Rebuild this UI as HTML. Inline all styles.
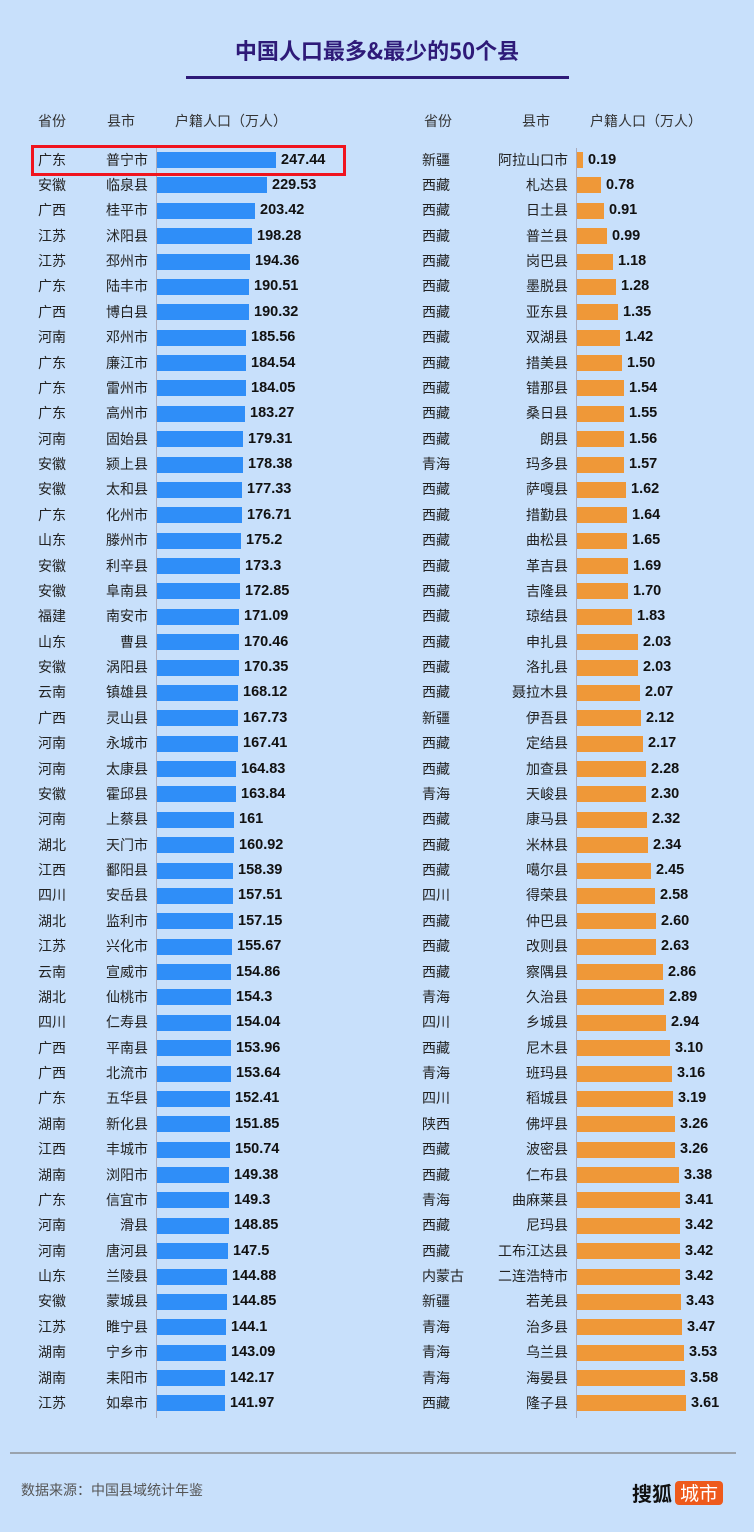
<!DOCTYPE html>
<html><head><meta charset="utf-8"><style>
body{margin:0;width:754px;height:1532px;background:#c8e0fb;position:relative;overflow:hidden;font-family:"Liberation Sans","Noto Sans CJK SC",sans-serif;color:#222}
.t{position:absolute;left:0;width:754px;top:34px;text-align:center;font-size:22px;font-weight:bold;color:#2e1a78;font-family:"Noto Sans CJK SC",sans-serif}
.ul{position:absolute;left:186px;width:383px;top:76px;height:3px;background:#2e1a78}
.h{position:absolute;top:111px;font-size:14px;color:#333;font-family:"Noto Sans CJK SC",sans-serif}
.col{position:absolute;top:147.5px;width:377px}
.col div{height:25.39px;position:relative;font-size:14px;font-family:"Noto Sans CJK SC",sans-serif}
.col span{position:absolute;top:2px;line-height:20px}
.L .p{left:38px}.L .c{right:229px}
.R .p{left:45px}.R .c{right:186px}
.col i{position:absolute;top:4.5px;height:16px}
.L i{left:157px;background:#2f8ef8}
.R i{left:200px;background:#ef9838}
.col b{position:absolute;top:2px;line-height:20px;font-family:"Liberation Sans",sans-serif;font-size:14.5px;color:#111}
.ax{position:absolute;width:1px;background:#aab;top:148px;height:1270px}
</style></head><body>
<div class="t">中国人口最多&amp;最少的50个县</div>
<div class="ul"></div>
<div class="h" style="left:38px">省份</div><div class="h" style="left:107px">县市</div><div class="h" style="left:175px">户籍人口（万人）</div>
<div class="h" style="left:424px">省份</div><div class="h" style="left:522px">县市</div><div class="h" style="left:590px">户籍人口（万人）</div>
<div class="ax" style="left:156px"></div><div class="ax" style="left:576px"></div>
<div style="position:absolute;left:31px;top:145px;width:309px;height:25px;border:3px solid #f0141e"></div>
<div class="col L" style="left:0">
<div><span class="p">广东</span><span class="c">普宁市</span><i style="width:119px"></i><b style="left:281px">247.44</b></div>
<div><span class="p">安徽</span><span class="c">临泉县</span><i style="width:110px"></i><b style="left:272px">229.53</b></div>
<div><span class="p">广西</span><span class="c">桂平市</span><i style="width:98px"></i><b style="left:260px">203.42</b></div>
<div><span class="p">江苏</span><span class="c">沭阳县</span><i style="width:95px"></i><b style="left:257px">198.28</b></div>
<div><span class="p">江苏</span><span class="c">邳州市</span><i style="width:93px"></i><b style="left:255px">194.36</b></div>
<div><span class="p">广东</span><span class="c">陆丰市</span><i style="width:92px"></i><b style="left:254px">190.51</b></div>
<div><span class="p">广西</span><span class="c">博白县</span><i style="width:92px"></i><b style="left:254px">190.32</b></div>
<div><span class="p">河南</span><span class="c">邓州市</span><i style="width:89px"></i><b style="left:251px">185.56</b></div>
<div><span class="p">广东</span><span class="c">廉江市</span><i style="width:89px"></i><b style="left:251px">184.54</b></div>
<div><span class="p">广东</span><span class="c">雷州市</span><i style="width:89px"></i><b style="left:251px">184.05</b></div>
<div><span class="p">广东</span><span class="c">高州市</span><i style="width:88px"></i><b style="left:250px">183.27</b></div>
<div><span class="p">河南</span><span class="c">固始县</span><i style="width:86px"></i><b style="left:248px">179.31</b></div>
<div><span class="p">安徽</span><span class="c">颍上县</span><i style="width:86px"></i><b style="left:248px">178.38</b></div>
<div><span class="p">安徽</span><span class="c">太和县</span><i style="width:85px"></i><b style="left:247px">177.33</b></div>
<div><span class="p">广东</span><span class="c">化州市</span><i style="width:85px"></i><b style="left:247px">176.71</b></div>
<div><span class="p">山东</span><span class="c">滕州市</span><i style="width:84px"></i><b style="left:246px">175.2</b></div>
<div><span class="p">安徽</span><span class="c">利辛县</span><i style="width:83px"></i><b style="left:245px">173.3</b></div>
<div><span class="p">安徽</span><span class="c">阜南县</span><i style="width:83px"></i><b style="left:245px">172.85</b></div>
<div><span class="p">福建</span><span class="c">南安市</span><i style="width:82px"></i><b style="left:244px">171.09</b></div>
<div><span class="p">山东</span><span class="c">曹县</span><i style="width:82px"></i><b style="left:244px">170.46</b></div>
<div><span class="p">安徽</span><span class="c">涡阳县</span><i style="width:82px"></i><b style="left:244px">170.35</b></div>
<div><span class="p">云南</span><span class="c">镇雄县</span><i style="width:81px"></i><b style="left:243px">168.12</b></div>
<div><span class="p">广西</span><span class="c">灵山县</span><i style="width:81px"></i><b style="left:243px">167.73</b></div>
<div><span class="p">河南</span><span class="c">永城市</span><i style="width:81px"></i><b style="left:243px">167.41</b></div>
<div><span class="p">河南</span><span class="c">太康县</span><i style="width:79px"></i><b style="left:241px">164.83</b></div>
<div><span class="p">安徽</span><span class="c">霍邱县</span><i style="width:79px"></i><b style="left:241px">163.84</b></div>
<div><span class="p">河南</span><span class="c">上蔡县</span><i style="width:77px"></i><b style="left:239px">161</b></div>
<div><span class="p">湖北</span><span class="c">天门市</span><i style="width:77px"></i><b style="left:239px">160.92</b></div>
<div><span class="p">江西</span><span class="c">鄱阳县</span><i style="width:76px"></i><b style="left:238px">158.39</b></div>
<div><span class="p">四川</span><span class="c">安岳县</span><i style="width:76px"></i><b style="left:238px">157.51</b></div>
<div><span class="p">湖北</span><span class="c">监利市</span><i style="width:76px"></i><b style="left:238px">157.15</b></div>
<div><span class="p">江苏</span><span class="c">兴化市</span><i style="width:75px"></i><b style="left:237px">155.67</b></div>
<div><span class="p">云南</span><span class="c">宣威市</span><i style="width:74px"></i><b style="left:236px">154.86</b></div>
<div><span class="p">湖北</span><span class="c">仙桃市</span><i style="width:74px"></i><b style="left:236px">154.3</b></div>
<div><span class="p">四川</span><span class="c">仁寿县</span><i style="width:74px"></i><b style="left:236px">154.04</b></div>
<div><span class="p">广西</span><span class="c">平南县</span><i style="width:74px"></i><b style="left:236px">153.96</b></div>
<div><span class="p">广西</span><span class="c">北流市</span><i style="width:74px"></i><b style="left:236px">153.64</b></div>
<div><span class="p">广东</span><span class="c">五华县</span><i style="width:73px"></i><b style="left:235px">152.41</b></div>
<div><span class="p">湖南</span><span class="c">新化县</span><i style="width:73px"></i><b style="left:235px">151.85</b></div>
<div><span class="p">江西</span><span class="c">丰城市</span><i style="width:73px"></i><b style="left:235px">150.74</b></div>
<div><span class="p">湖南</span><span class="c">浏阳市</span><i style="width:72px"></i><b style="left:234px">149.38</b></div>
<div><span class="p">广东</span><span class="c">信宜市</span><i style="width:72px"></i><b style="left:234px">149.3</b></div>
<div><span class="p">河南</span><span class="c">滑县</span><i style="width:72px"></i><b style="left:234px">148.85</b></div>
<div><span class="p">河南</span><span class="c">唐河县</span><i style="width:71px"></i><b style="left:233px">147.5</b></div>
<div><span class="p">山东</span><span class="c">兰陵县</span><i style="width:70px"></i><b style="left:232px">144.88</b></div>
<div><span class="p">安徽</span><span class="c">蒙城县</span><i style="width:70px"></i><b style="left:232px">144.85</b></div>
<div><span class="p">江苏</span><span class="c">睢宁县</span><i style="width:69px"></i><b style="left:231px">144.1</b></div>
<div><span class="p">湖南</span><span class="c">宁乡市</span><i style="width:69px"></i><b style="left:231px">143.09</b></div>
<div><span class="p">湖南</span><span class="c">耒阳市</span><i style="width:68px"></i><b style="left:230px">142.17</b></div>
<div><span class="p">江苏</span><span class="c">如皋市</span><i style="width:68px"></i><b style="left:230px">141.97</b></div>
</div>
<div class="col R" style="left:377px">
<div><span class="p">新疆</span><span class="c">阿拉山口市</span><i style="width:6px"></i><b style="left:211px">0.19</b></div>
<div><span class="p">西藏</span><span class="c">札达县</span><i style="width:24px"></i><b style="left:229px">0.78</b></div>
<div><span class="p">西藏</span><span class="c">日土县</span><i style="width:27px"></i><b style="left:232px">0.91</b></div>
<div><span class="p">西藏</span><span class="c">普兰县</span><i style="width:30px"></i><b style="left:235px">0.99</b></div>
<div><span class="p">西藏</span><span class="c">岗巴县</span><i style="width:36px"></i><b style="left:241px">1.18</b></div>
<div><span class="p">西藏</span><span class="c">墨脱县</span><i style="width:39px"></i><b style="left:244px">1.28</b></div>
<div><span class="p">西藏</span><span class="c">亚东县</span><i style="width:41px"></i><b style="left:246px">1.35</b></div>
<div><span class="p">西藏</span><span class="c">双湖县</span><i style="width:43px"></i><b style="left:248px">1.42</b></div>
<div><span class="p">西藏</span><span class="c">措美县</span><i style="width:45px"></i><b style="left:250px">1.50</b></div>
<div><span class="p">西藏</span><span class="c">错那县</span><i style="width:47px"></i><b style="left:252px">1.54</b></div>
<div><span class="p">西藏</span><span class="c">桑日县</span><i style="width:47px"></i><b style="left:252px">1.55</b></div>
<div><span class="p">西藏</span><span class="c">朗县</span><i style="width:47px"></i><b style="left:252px">1.56</b></div>
<div><span class="p">青海</span><span class="c">玛多县</span><i style="width:47px"></i><b style="left:252px">1.57</b></div>
<div><span class="p">西藏</span><span class="c">萨嘎县</span><i style="width:49px"></i><b style="left:254px">1.62</b></div>
<div><span class="p">西藏</span><span class="c">措勤县</span><i style="width:50px"></i><b style="left:255px">1.64</b></div>
<div><span class="p">西藏</span><span class="c">曲松县</span><i style="width:50px"></i><b style="left:255px">1.65</b></div>
<div><span class="p">西藏</span><span class="c">革吉县</span><i style="width:51px"></i><b style="left:256px">1.69</b></div>
<div><span class="p">西藏</span><span class="c">吉隆县</span><i style="width:51px"></i><b style="left:256px">1.70</b></div>
<div><span class="p">西藏</span><span class="c">琼结县</span><i style="width:55px"></i><b style="left:260px">1.83</b></div>
<div><span class="p">西藏</span><span class="c">申扎县</span><i style="width:61px"></i><b style="left:266px">2.03</b></div>
<div><span class="p">西藏</span><span class="c">洛扎县</span><i style="width:61px"></i><b style="left:266px">2.03</b></div>
<div><span class="p">西藏</span><span class="c">聂拉木县</span><i style="width:63px"></i><b style="left:268px">2.07</b></div>
<div><span class="p">新疆</span><span class="c">伊吾县</span><i style="width:64px"></i><b style="left:269px">2.12</b></div>
<div><span class="p">西藏</span><span class="c">定结县</span><i style="width:66px"></i><b style="left:271px">2.17</b></div>
<div><span class="p">西藏</span><span class="c">加查县</span><i style="width:69px"></i><b style="left:274px">2.28</b></div>
<div><span class="p">青海</span><span class="c">天峻县</span><i style="width:69px"></i><b style="left:274px">2.30</b></div>
<div><span class="p">西藏</span><span class="c">康马县</span><i style="width:70px"></i><b style="left:275px">2.32</b></div>
<div><span class="p">西藏</span><span class="c">米林县</span><i style="width:71px"></i><b style="left:276px">2.34</b></div>
<div><span class="p">西藏</span><span class="c">噶尔县</span><i style="width:74px"></i><b style="left:279px">2.45</b></div>
<div><span class="p">四川</span><span class="c">得荣县</span><i style="width:78px"></i><b style="left:283px">2.58</b></div>
<div><span class="p">西藏</span><span class="c">仲巴县</span><i style="width:79px"></i><b style="left:284px">2.60</b></div>
<div><span class="p">西藏</span><span class="c">改则县</span><i style="width:79px"></i><b style="left:284px">2.63</b></div>
<div><span class="p">西藏</span><span class="c">察隅县</span><i style="width:86px"></i><b style="left:291px">2.86</b></div>
<div><span class="p">青海</span><span class="c">久治县</span><i style="width:87px"></i><b style="left:292px">2.89</b></div>
<div><span class="p">四川</span><span class="c">乡城县</span><i style="width:89px"></i><b style="left:294px">2.94</b></div>
<div><span class="p">西藏</span><span class="c">尼木县</span><i style="width:93px"></i><b style="left:298px">3.10</b></div>
<div><span class="p">青海</span><span class="c">班玛县</span><i style="width:95px"></i><b style="left:300px">3.16</b></div>
<div><span class="p">四川</span><span class="c">稻城县</span><i style="width:96px"></i><b style="left:301px">3.19</b></div>
<div><span class="p">陕西</span><span class="c">佛坪县</span><i style="width:98px"></i><b style="left:303px">3.26</b></div>
<div><span class="p">西藏</span><span class="c">波密县</span><i style="width:98px"></i><b style="left:303px">3.26</b></div>
<div><span class="p">西藏</span><span class="c">仁布县</span><i style="width:102px"></i><b style="left:307px">3.38</b></div>
<div><span class="p">青海</span><span class="c">曲麻莱县</span><i style="width:103px"></i><b style="left:308px">3.41</b></div>
<div><span class="p">西藏</span><span class="c">尼玛县</span><i style="width:103px"></i><b style="left:308px">3.42</b></div>
<div><span class="p">西藏</span><span class="c">工布江达县</span><i style="width:103px"></i><b style="left:308px">3.42</b></div>
<div><span class="p">内蒙古</span><span class="c">二连浩特市</span><i style="width:103px"></i><b style="left:308px">3.42</b></div>
<div><span class="p">新疆</span><span class="c">若羌县</span><i style="width:104px"></i><b style="left:309px">3.43</b></div>
<div><span class="p">青海</span><span class="c">治多县</span><i style="width:105px"></i><b style="left:310px">3.47</b></div>
<div><span class="p">青海</span><span class="c">乌兰县</span><i style="width:107px"></i><b style="left:312px">3.53</b></div>
<div><span class="p">青海</span><span class="c">海晏县</span><i style="width:108px"></i><b style="left:313px">3.58</b></div>
<div><span class="p">西藏</span><span class="c">隆子县</span><i style="width:109px"></i><b style="left:314px">3.61</b></div>
</div>
<div style="position:absolute;left:10px;top:1452px;width:726px;height:2px;background:#9aa3ad"></div>
<div style="position:absolute;left:21px;top:1480px;font-size:14px;color:#555;font-family:'Noto Sans CJK SC',sans-serif">数据来源：中国县域统计年鉴</div>
<div style="position:absolute;left:632px;top:1479px;font-size:20px;font-weight:bold;color:#111;font-family:'Noto Sans CJK SC',sans-serif;line-height:28px;white-space:nowrap">搜狐<span style="display:inline-block;margin-left:3px;background:#ee5a1c;color:#fff;border-radius:4px;padding:0 5px;font-weight:normal;font-size:19px;line-height:24px;vertical-align:1px">城市</span></div>
</body></html>
